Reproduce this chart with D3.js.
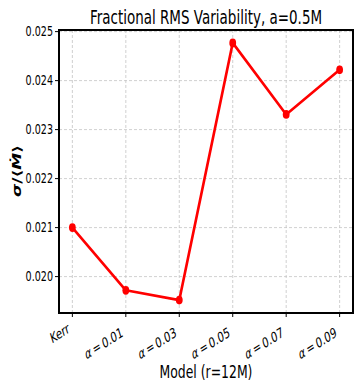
<!DOCTYPE html>
<html>
<head>
<meta charset="utf-8">
<script src="https://cdn.jsdelivr.net/npm/d3@7"></script>
<style>
  body { margin: 0; background: #fff; }
  text { font-family: "DejaVu Sans", sans-serif; fill: #000; }
</style>
</head>
<body>
<div id="chart"></div>
<script>
// chart values
const models = ["Kerr", "α\u2009=\u20090.01", "α\u2009=\u20090.03", "α\u2009=\u20090.05", "α\u2009=\u20090.07", "α\u2009=\u20090.09"];
const rmsValues = [0.02100, 0.01972, 0.01952, 0.02477, 0.02331, 0.02422];
const yTicks = [0.020, 0.021, 0.022, 0.023, 0.024, 0.025];

const W = 360, H = 392;
const SX = 0.71; // the picture is squeezed sideways, so is the text
const plot = { left: 59, right: 353, top: 30, bottom: 313 };

const svg = d3.select("#chart").append("svg")
    .attr("width", W)
    .attr("height", H);

const x = d3.scalePoint()
    .domain(models)
    .range([plot.left, plot.right])
    .padding(0.25);

const y = d3.scaleLinear()
    .domain([0.019257, 0.025033])
    .range([plot.bottom, plot.top]);

// grid
svg.append("g").selectAll("line")
    .data(models)
    .enter().append("line")
    .attr("x1", d => x(d)).attr("x2", d => x(d))
    .attr("y1", plot.top).attr("y2", plot.bottom)
    .attr("stroke", "#c4c4c4")
    .attr("stroke-width", 0.8)
    .attr("stroke-dasharray", "3,2");

svg.append("g").selectAll("line")
    .data(yTicks)
    .enter().append("line")
    .attr("x1", plot.left).attr("x2", plot.right)
    .attr("y1", d => y(d)).attr("y2", d => y(d))
    .attr("stroke", "#c4c4c4")
    .attr("stroke-width", 0.8)
    .attr("stroke-dasharray", "3,2");

// tick marks
svg.append("g").selectAll("line")
    .data(yTicks)
    .enter().append("line")
    .attr("x1", plot.left - 4).attr("x2", plot.left)
    .attr("y1", d => y(d)).attr("y2", d => y(d))
    .attr("stroke", "#000").attr("stroke-width", 1);

svg.append("g").selectAll("line")
    .data(models)
    .enter().append("line")
    .attr("x1", d => x(d)).attr("x2", d => x(d))
    .attr("y1", plot.bottom).attr("y2", plot.bottom + 4)
    .attr("stroke", "#000").attr("stroke-width", 1);

// y tick labels
svg.append("g").selectAll("text")
    .data(yTicks)
    .enter().append("text")
    .attr("transform", d => `translate(${plot.left - 6},${y(d)}) scale(${SX},1)`)
    .attr("text-anchor", "end")
    .attr("dy", "0.36em")
    .style("font-size", "13.5px")
    .text(d => d3.format(".3f")(d));

// x tick labels, rotated
svg.append("g").selectAll("text")
    .data(models)
    .enter().append("text")
    .attr("transform", (d, i) => {
        const ty = i === 0 ? 332 : 336;
        return `translate(${x(d) - 2},${ty}) scale(${SX},1) rotate(-24)`;
    })
    .attr("text-anchor", "end")
    .style("font-size", "14px")
    .each(function (d) {
        const t = d3.select(this);
        if (d.startsWith("α")) {
            t.append("tspan").style("font-style", "italic").text("α");
            t.append("tspan").text(d.slice(1));
        } else {
            t.text(d);
        }
    });

// the series
const line = d3.line()
    .x((d, i) => x(models[i]))
    .y(d => y(d));

svg.append("path")
    .datum(rmsValues)
    .attr("d", line)
    .attr("fill", "none")
    .attr("stroke", "#ff0000")
    .attr("stroke-width", 2.6)
    .attr("stroke-linejoin", "round");

svg.append("g").selectAll("ellipse")
    .data(rmsValues)
    .enter().append("ellipse")
    .attr("cx", (d, i) => x(models[i]))
    .attr("cy", d => y(d))
    .attr("rx", 3.4)
    .attr("ry", 4.4)
    .attr("fill", "#ff0000");

// frame
svg.append("rect")
    .attr("x", plot.left).attr("y", plot.top)
    .attr("width", plot.right - plot.left)
    .attr("height", plot.bottom - plot.top)
    .attr("fill", "none")
    .attr("stroke", "#000")
    .attr("stroke-width", 2);

// title and axis labels
svg.append("text")
    .attr("transform", `translate(${(plot.left + plot.right) / 2},24) scale(${SX},1)`)
    .attr("text-anchor", "middle")
    .style("font-size", "19px")
    .text("Fractional RMS Variability, a=0.5M");

svg.append("text")
    .attr("transform", `translate(${(plot.left + plot.right) / 2},378) scale(${SX},1)`)
    .attr("text-anchor", "middle")
    .style("font-size", "17.5px")
    .text("Model (r=12M)");

const ylab = svg.append("text")
    .attr("transform", `translate(21,171) scale(${SX},1) rotate(-90)`)
    .attr("text-anchor", "middle")
    .style("font-size", "17px")
    .style("font-weight", "bold");
ylab.append("tspan").style("font-style", "italic").text("σ");
ylab.append("tspan").text("/⟨");
ylab.append("tspan").style("font-style", "italic").text("Ṁ");
ylab.append("tspan").text("⟩");
</script>
</body>
</html>
